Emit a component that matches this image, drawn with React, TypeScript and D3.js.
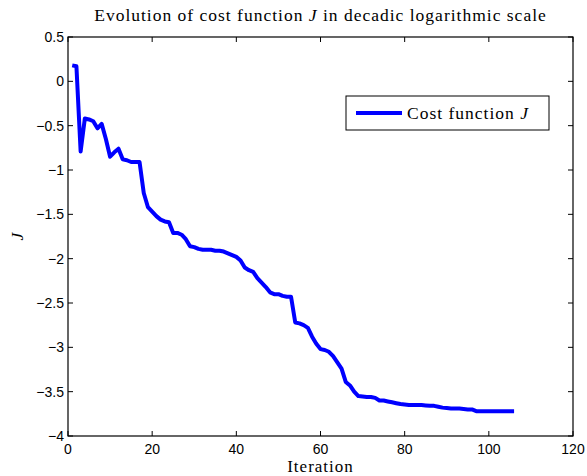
import React from "react";
import * as d3 from "d3";

const iterations: number[] = Array.from({ length: 106 }, (_, i) => i + 1);
const costValues: number[] = [
  0.18, 0.17, -0.79, -0.42, -0.43, -0.45, -0.53, -0.48, -0.65, -0.85,
  -0.8, -0.76, -0.88, -0.89, -0.91, -0.91, -0.91, -1.26, -1.42, -1.47,
  -1.52, -1.56, -1.58, -1.59, -1.71, -1.71, -1.73, -1.78, -1.86, -1.87,
  -1.89, -1.9, -1.9, -1.9, -1.91, -1.91, -1.92, -1.94, -1.96, -1.98,
  -2.02, -2.1, -2.13, -2.15, -2.22, -2.27, -2.32, -2.38, -2.4, -2.4,
  -2.42, -2.43, -2.43, -2.72, -2.73, -2.75, -2.78, -2.88, -2.96, -3.02,
  -3.03, -3.05, -3.1, -3.17, -3.24, -3.39, -3.43, -3.5, -3.55, -3.555,
  -3.56, -3.56, -3.57, -3.6, -3.6, -3.61, -3.62, -3.63, -3.64, -3.645,
  -3.65, -3.65, -3.65, -3.65, -3.655, -3.66, -3.66, -3.67, -3.68, -3.685,
  -3.69, -3.69, -3.69, -3.695, -3.7, -3.7, -3.72, -3.72, -3.72, -3.72,
  -3.72, -3.72, -3.72, -3.72, -3.72, -3.72,
];
const xTicks: number[] = [0, 20, 40, 60, 80, 100, 120];
const yTicks: number[] = [0.5, 0, -0.5, -1, -1.5, -2, -2.5, -3, -3.5, -4];

const W = 587;
const H = 476;
const L = 68;
const R = 573;
const T = 37;
const B = 436;

const fmt = (v: number) => {
  const s = String(v);
  return s.startsWith("-") ? "\u2212" + s.slice(1) : s;
};

export default function App() {
  const x = d3.scaleLinear().domain([0, 120]).range([L, R]);
  const y = d3.scaleLinear().domain([-4, 0.5]).range([B, T]);
  const line = d3
    .line<number>()
    .x((_, i) => x(iterations[i]))
    .y((d) => y(d));
  const serif = "'Liberation Serif', 'DejaVu Serif', serif";
  const sans = "'Liberation Sans', Arial, sans-serif";
  const tl = 5;
  return (
    <svg
      width={W}
      height={H}
      style={{ position: "absolute", left: 0, top: 0, background: "#fff" }}
    >
      <rect x={0} y={0} width={W} height={H} fill="#fff" />
      <text
        x={(L + R) / 2}
        y={21}
        textAnchor="middle"
        fontFamily={serif}
        fontSize={17.5}
        letterSpacing={1}
      >
        Evolution of cost function <tspan fontStyle="italic">J</tspan> in decadic
        logarithmic scale
      </text>
      <path
        d={line(costValues) || ""}
        fill="none"
        stroke="#0000ff"
        strokeWidth={4}
        strokeLinejoin="round"
      />
      <rect
        x={L}
        y={T}
        width={R - L}
        height={B - T}
        fill="none"
        stroke="#000"
        strokeWidth={1.2}
      />
      {xTicks.map((t) => (
        <g key={"x" + t}>
          <line x1={x(t)} x2={x(t)} y1={B} y2={B - tl} stroke="#000" />
          <line x1={x(t)} x2={x(t)} y1={T} y2={T + tl} stroke="#000" />
          <text
            x={x(t)}
            y={B + 18}
            textAnchor="middle"
            fontFamily={sans}
            fontSize={14}
          >
            {fmt(t)}
          </text>
        </g>
      ))}
      {yTicks.map((t) => (
        <g key={"y" + t}>
          <line x1={L} x2={L + tl} y1={y(t)} y2={y(t)} stroke="#000" />
          <line x1={R} x2={R - tl} y1={y(t)} y2={y(t)} stroke="#000" />
          <text
            x={L - 4}
            y={y(t) + 5}
            textAnchor="end"
            fontFamily={sans}
            fontSize={14}
          >
            {fmt(t)}
          </text>
        </g>
      ))}
      <text
        x={(L + R) / 2}
        y={472}
        textAnchor="middle"
        fontFamily={serif}
        fontSize={17}
        letterSpacing={1}
      >
        Iteration
      </text>
      <text
        transform={`translate(23,${(T + B) / 2}) rotate(-90)`}
        textAnchor="middle"
        fontFamily={serif}
        fontSize={17.5}
        fontStyle="italic"
      >
        J
      </text>
      <g>
        <rect
          x={346}
          y={96}
          width={203}
          height={34}
          fill="#fff"
          stroke="#000"
          strokeWidth={1}
        />
        <line x1={356} x2={402} y1={113} y2={113} stroke="#0000ff" strokeWidth={4} />
        <text x={407} y={119} fontFamily={serif} fontSize={17.5} letterSpacing={1}>
          Cost function <tspan fontStyle="italic">J</tspan>
        </text>
      </g>
    </svg>
  );
}
